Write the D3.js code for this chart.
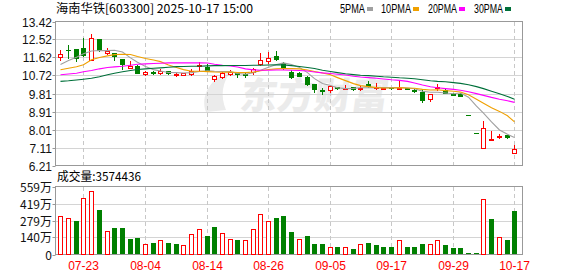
<!DOCTYPE html>
<html><head><meta charset="utf-8">
<script src="https://cdn.jsdelivr.net/npm/d3@7"></script>
<style>body{margin:0;background:#fff}svg{display:block}</style>
</head><body>
<svg id="c" width="578" height="276"></svg>
<script>
const dates = ["07-18","07-21","07-22","07-23","07-24","07-25","07-28","07-29","07-30","07-31",
"08-01","08-04","08-05","08-06","08-07","08-08","08-11","08-12","08-13","08-14",
"08-15","08-18","08-19","08-20","08-21","08-22","08-25","08-26","08-27","08-28",
"08-29","09-01","09-02","09-03","09-04","09-05","09-08","09-09","09-10","09-11",
"09-12","09-15","09-16","09-17","09-18","09-19","09-22","09-23","09-24","09-25",
"09-26","09-29","09-30","10-09","10-10","10-13","10-14","10-15","10-16","10-17"];
const open  = [11.63,11.98,12.02,12.10,11.50,12.52,11.83,11.83,11.52,11.08,
11.17,10.78,10.90,10.83,10.95,10.74,10.73,10.78,11.18,11.15,
10.52,10.63,10.78,10.83,10.78,10.87,11.30,11.43,11.68,11.32,
10.90,10.85,10.66,10.30,9.98,9.97,10.12,10.07,10.12,10.07,
10.27,10.08,10.05,10.10,10.07,10.08,10.00,9.88,9.55,10.08,
10.00,9.80,9.80,8.73,7.86,7.10,7.55,7.68,7.72,6.85];
const high  = [11.97,12.25,12.02,12.60,12.80,12.55,12.10,11.85,11.52,11.45,
11.23,10.92,10.92,11.03,10.95,10.85,10.85,11.05,11.37,11.28,
10.72,10.92,11.00,10.85,10.82,11.08,11.85,11.87,11.93,11.38,
11.00,10.88,10.70,10.30,10.10,10.17,10.14,10.22,10.13,10.17,
10.42,10.32,10.12,10.12,10.45,10.10,10.02,9.97,9.80,10.27,
10.05,9.85,9.82,8.73,7.86,8.46,7.93,7.80,7.74,7.25];
const low   = [11.50,11.60,11.43,11.70,11.50,11.94,11.80,11.50,11.05,11.08,
10.83,10.76,10.77,10.81,10.77,10.68,10.72,10.75,11.00,10.97,
10.43,10.57,10.74,10.63,10.62,10.80,11.23,11.35,11.47,11.05,
10.60,10.68,10.22,9.88,9.80,9.88,10.05,10.02,10.00,10.00,
10.12,10.06,10.02,10.05,10.05,10.02,9.88,9.40,9.43,10.00,
9.82,9.72,9.68,8.73,7.86,7.08,7.55,7.58,7.60,6.85];
const close = [11.80,11.97,11.60,11.72,12.60,11.97,11.93,11.67,11.27,11.18,
10.83,10.90,10.85,10.93,10.83,10.78,10.83,10.93,11.23,10.97,
10.67,10.82,10.88,10.78,10.75,11.03,11.47,11.60,11.52,11.13,
10.65,10.70,10.28,10.02,9.95,10.17,10.08,10.10,10.05,10.10,
10.18,10.12,10.08,10.08,10.10,10.05,9.93,9.50,9.80,10.12,
9.85,9.75,9.70,8.73,7.86,8.10,7.56,7.70,7.62,7.05];
// volume in 万 shares
const volume = [313,303,275,466,518,362,191,218,218,125,
136,84,95,117,95,87,74,166,207,152,
223,174,131,119,117,207,330,272,297,313,
185,131,150,84,84,65,60,65,43,90,
92,76,60,60,123,60,60,84,84,123,
76,52,52,11,11,458,289,147,117,357.4436];
// 1 = up day (red), 0 = down day (green)
const volUp = [1,1,0,1,1,0,1,0,0,0, 0,1,0,1,0,0,1,1,1,0, 0,1,1,0,1,1,1,1,0,0,
0,1,0,0,0,1,0,1,0,1, 0,0,0,0,1,0,0,0,1,1, 0,0,0,0,0,1,0,1,0,0];
const ma5 = [11.27,11.47,11.63,11.80,11.94,11.97,11.96,11.98,11.89,11.60,
11.38,11.17,11.01,10.94,10.87,10.86,10.84,10.86,10.92,10.95,
10.93,10.92,10.91,10.82,10.78,10.85,10.98,11.13,11.27,11.35,
11.27,11.12,10.86,10.56,10.32,10.22,10.10,10.06,10.07,10.10,
10.10,10.11,10.11,10.11,10.11,10.09,10.05,9.93,9.88,9.88,
9.84,9.80,9.84,9.63,9.18,8.83,8.39,7.99,7.77,7.61];
const ma10 = [11.00,11.08,11.15,11.25,11.50,11.62,11.70,11.76,11.78,11.77,
11.67,11.57,11.49,11.41,11.24,11.12,11.01,10.93,10.93,10.91,
10.89,10.88,10.89,10.87,10.86,10.89,10.95,11.02,11.05,11.07,
11.06,11.05,10.99,10.92,10.84,10.75,10.61,10.46,10.31,10.21,
10.16,10.11,10.09,10.09,10.11,10.09,10.08,10.02,9.99,10.00,
9.96,9.93,9.89,9.75,9.53,9.33,9.10,8.92,8.70,8.39];
const ma20 = [10.75,10.79,10.83,10.90,10.97,11.05,11.12,11.15,11.18,11.23,
11.28,11.30,11.32,11.33,11.35,11.35,11.35,11.35,11.35,11.34,
11.28,11.23,11.19,11.14,11.05,11.00,10.98,10.98,10.99,10.99,
10.98,10.97,10.94,10.89,10.85,10.82,10.78,10.74,10.68,10.64,
10.61,10.58,10.54,10.50,10.47,10.42,10.34,10.24,10.15,10.10,
10.06,10.02,9.98,9.90,9.81,9.72,9.62,9.53,9.45,9.37];
const ma30 = [10.42,10.45,10.49,10.53,10.58,10.65,10.75,10.83,10.90,10.97,
11.02,11.05,11.08,11.10,11.13,11.16,11.17,11.18,11.18,11.20,
11.21,11.21,11.22,11.22,11.22,11.23,11.23,11.24,11.25,11.25,
11.21,11.17,11.12,11.07,10.98,10.92,10.86,10.80,10.76,10.73,
10.71,10.68,10.65,10.63,10.60,10.58,10.55,10.50,10.45,10.42,
10.40,10.36,10.32,10.25,10.16,10.06,9.93,9.80,9.67,9.53];
const priceTicks = [13.42,12.52,11.62,10.72,9.81,8.91,8.01,7.11,6.21];
const volTicks = [0,140,279,419,559];
const volTickLabels = ["0","140万","279万","419万","559万"];
const dateTicks = ["07-23","08-04","08-14","08-26","09-05","09-17","09-29","10-17"];
const titleText = "海南华铁[603300] 2025-10-17 15:00";
const volTitle = "成交量:3574436";
const maNames = ["5PMA","10PMA","20PMA","30PMA"];

const RED = "#ff0000", GREEN = "#008000";
const maColors = ["#a0a0a0","#f0a000","#ff00ff","#00703a"];
const FONT = "'Liberation Sans', Arial, sans-serif";
const CJK = "'Noto Sans CJK SC', sans-serif";

const svg = d3.select("#c");
svg.append("rect").attr("width",578).attr("height",276).attr("fill","#fff");

const L = 55.5, R = 522.5, PT = 21.5, PB = 165.5, VT = 186.5, VB = 254.5;
const x = d3.scaleBand().domain(dates).range([56.5, 518.1]);
const cx = d => Math.round(x(d) + x.bandwidth()/2);
const y = d3.scaleLinear().domain([6.21, 13.42]).range([PB, PT]);
const yv = d3.scaleLinear().domain([0, 559]).range([VB, VT]);
const py = v => Math.round(y(v));

// watermark
const wm = svg.append("g").attr("fill","#ebebeb");
wm.append("path").attr("d","M206,112 C200,96 210,78 232,70 C222,82 220,96 226,110 Z");
wm.append("text").attr("x",240).attr("y",109).attr("font-family",CJK).attr("font-weight",900)
  .attr("font-size",37).attr("transform","skewX(-8) translate(14,0)").text("东方财富");

// grid lines
const grid = svg.append("g").attr("stroke","#d4d4d4").attr("shape-rendering","crispEdges");
grid.selectAll(".hp").data(priceTicks.slice(1,-1)).join("line")
  .attr("x1",L).attr("x2",R).attr("y1",d=>py(d)+0.5).attr("y2",d=>py(d)+0.5);
grid.selectAll(".hv").data(volTicks.slice(1,-1)).join("line")
  .attr("x1",L).attr("x2",R).attr("y1",d=>Math.round(yv(d))+0.5).attr("y2",d=>Math.round(yv(d))+0.5);
const vg = svg.append("g").attr("stroke","#c8c8c8").attr("stroke-dasharray","4,3").attr("shape-rendering","crispEdges");
dateTicks.forEach(d=>{
  vg.append("line").attr("x1",cx(d)+0.5).attr("x2",cx(d)+0.5).attr("y1",PT).attr("y2",PB);
  vg.append("line").attr("x1",cx(d)+0.5).attr("x2",cx(d)+0.5).attr("y1",VT).attr("y2",VB);
});

// borders
const bd = svg.append("g").attr("fill","none").attr("stroke","#999").attr("shape-rendering","crispEdges");
bd.append("rect").attr("x",L).attr("y",PT).attr("width",R-L).attr("height",PB-PT);
bd.append("rect").attr("x",L).attr("y",VT).attr("width",R-L).attr("height",VB-VT);

// y axes labels & ticks
const ax = svg.append("g").attr("font-family",FONT).attr("font-size",12).attr("fill","#111");
ax.selectAll(".pl").data(priceTicks).join("text")
  .attr("x",52).attr("y",d=>py(d)+4.5).attr("text-anchor","end").text(d=>d.toFixed(2));
ax.selectAll(".pt").data(priceTicks).join("line").attr("stroke","#999")
  .attr("x1",L-3).attr("x2",L).attr("y1",d=>py(d)+0.5).attr("y2",d=>py(d)+0.5);
ax.selectAll(".vl").data(volTicks).join("text")
  .attr("x",52).attr("y",d=>Math.round(yv(d))+4.5).attr("text-anchor","end")
  .attr("font-family",CJK).attr("font-size",12)
  .text((d,i)=>volTickLabels[i]);
ax.selectAll(".vt").data(volTicks).join("line").attr("stroke","#999")
  .attr("x1",L-3).attr("x2",L).attr("y1",d=>Math.round(yv(d))+0.5).attr("y2",d=>Math.round(yv(d))+0.5);

// x labels
svg.append("g").selectAll("text").data(dateTicks).join("text")
  .attr("x",d=>cx(d)+0.5).attr("y",270).attr("text-anchor","middle")
  .attr("font-family",FONT).attr("font-size",12).attr("fill",RED).text(d=>d);

// candles
const cg = svg.append("g").attr("shape-rendering","crispEdges");
dates.forEach((d,i)=>{
  const c = cx(d), o = open[i], cl = close[i];
  const up = cl > o;
  const col = up ? RED : GREEN;
  cg.append("line").attr("stroke",col).attr("x1",c+0.5).attr("x2",c+0.5)
    .attr("y1",py(high[i])).attr("y2",py(low[i])+1);
  const top = py(Math.max(o,cl)), bot = py(Math.min(o,cl));
  if (up) {
    cg.append("rect").attr("x",c-2+0.5).attr("y",top+0.5).attr("width",4).attr("height",Math.max(1,bot-top))
      .attr("fill","#fff").attr("stroke",RED);
  } else {
    cg.append("rect").attr("x",c-2).attr("y",top).attr("width",5).attr("height",Math.max(1,bot-top+1))
      .attr("fill",GREEN);
  }
});

// volume bars
const vb = svg.append("g").attr("shape-rendering","crispEdges");
dates.forEach((d,i)=>{
  const c = cx(d), t = Math.round(yv(volume[i]));
  if (volUp[i]) {
    vb.append("rect").attr("x",c-2+0.5).attr("y",t+0.5).attr("width",4).attr("height",VB-0.5-t-0.5)
      .attr("fill","#fff").attr("stroke",RED);
  } else {
    vb.append("rect").attr("x",c-2).attr("y",t).attr("width",5).attr("height",VB-0.5-t).attr("fill",GREEN);
  }
});

// MA lines
[ma5,ma10,ma20,ma30].forEach((arr,k)=>{
  const line = d3.line().x((v,i)=>cx(dates[i])+0.5).y(v=>y(v));
  svg.append("path").attr("d",line(arr)).attr("fill","none").attr("stroke",maColors[k]).attr("stroke-width",1.1);
});

// title & legend
svg.append("text").attr("x",56).attr("y",13).attr("font-family",CJK).attr("font-size",12)
  .attr("fill","#000").attr("textLength",197).attr("lengthAdjust","spacingAndGlyphs").text(titleText);
const lx = [340,381,428,474], lw=[25,30,29,29];
const lg = svg.append("g");
maNames.forEach((n,k)=>{
  lg.append("text").attr("x",lx[k]).attr("y",13).attr("font-family",FONT).attr("font-size",12)
    .attr("textLength",lw[k]).attr("lengthAdjust","spacingAndGlyphs").attr("fill","#000").text(n);
  lg.append("rect").attr("x",lx[k]+lw[k]+2).attr("y",7).attr("width",6).attr("height",4).attr("fill",maColors[k]);
});
svg.append("text").attr("x",57).attr("y",181).attr("font-family",CJK).attr("font-size",12)
  .attr("fill","#000").attr("textLength",84).attr("lengthAdjust","spacingAndGlyphs").text(volTitle);
</script>
</body></html>
